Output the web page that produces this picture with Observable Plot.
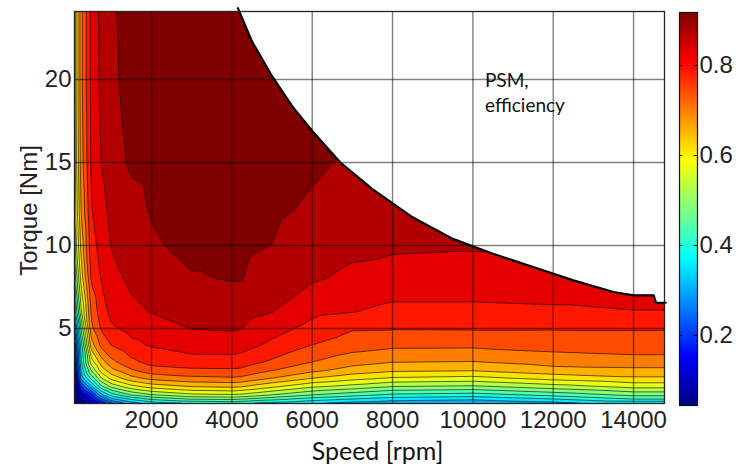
<!DOCTYPE html>
<html><head><meta charset="utf-8">
<script src="https://cdn.jsdelivr.net/npm/d3@7"></script>
<script src="https://cdn.jsdelivr.net/npm/@observablehq/plot@0.6"></script>
<style>
body{margin:0;background:#fff;}
#wrap{position:relative;width:736px;height:471px;overflow:hidden;}
#bar{position:absolute;left:668px;top:0;}
#main{position:absolute;left:0;top:0;}
</style></head><body><div id="wrap"><div id="main"></div><div id="bar"></div></div>
<script>
// Speed grid (rpm) — columns
const speeds = [0, 100, 250, 500, 750, 1000, 1500, 2000, 3000, 4000, 4200, 5000, 6000, 7000, 8000, 10000, 12000, 14000, 14800];
// Torque grid (Nm) — rows
const torques = [0.4, 0.75, 1, 1.5, 2, 2.5, 3, 4, 5, 6, 8, 10, 12, 15, 20, 25];
const efficiency = [
  [0, 0.00, 0.02, 0.06, 0.12, 0.18, 0.26, 0.30, 0.32, 0.33, 0.33, 0.31, 0.29, 0.27, 0.26, 0.25, 0.27, 0.28, 0.28],
  [0, 0.01, 0.05, 0.12, 0.22, 0.30, 0.362, 0.407, 0.444, 0.452, 0.444, 0.414, 0.377, 0.353, 0.332, 0.320, 0.353, 0.398, 0.398],
  [0, 0.02, 0.08, 0.16, 0.295, 0.370, 0.444, 0.481, 0.516, 0.523, 0.519, 0.484, 0.441, 0.414, 0.388, 0.377, 0.411, 0.452, 0.452],
  [0, 0.04, 0.18, 0.30, 0.429, 0.496, 0.556, 0.589, 0.616, 0.623, 0.619, 0.580, 0.535, 0.511, 0.484, 0.476, 0.508, 0.541, 0.541],
  [0, 0.08, 0.28, 0.41, 0.526, 0.586, 0.643, 0.671, 0.690, 0.696, 0.693, 0.657, 0.614, 0.586, 0.565, 0.556, 0.586, 0.607, 0.607],
  [0, 0.11, 0.32, 0.49, 0.593, 0.646, 0.698, 0.728, 0.738, 0.739, 0.738, 0.704, 0.671, 0.641, 0.625, 0.620, 0.644, 0.648, 0.648],
  [0, 0.14, 0.35, 0.55, 0.638, 0.690, 0.735, 0.760, 0.769, 0.771, 0.768, 0.738, 0.702, 0.675, 0.660, 0.657, 0.675, 0.683, 0.683],
  [0, 0.18, 0.38, 0.638, 0.713, 0.745, 0.777, 0.792, 0.810, 0.810, 0.807, 0.778, 0.744, 0.722, 0.711, 0.710, 0.719, 0.726, 0.726],
  [0, 0.26, 0.45, 0.690, 0.750, 0.781, 0.802, 0.810, 0.832, 0.835, 0.833, 0.805, 0.774, 0.748, 0.747, 0.748, 0.747, 0.747, 0.747],
  [0, 0.35, 0.52, 0.708, 0.769, 0.799, 0.822, 0.833, 0.844, 0.848, 0.847, 0.832, 0.798, 0.789, 0.777, 0.777, 0.780, 0.786, 0.786],
  [0, 0.44, 0.59, 0.750, 0.790, 0.820, 0.839, 0.848, 0.871, 0.877, 0.877, 0.854, 0.836, 0.822, 0.813, 0.813, 0.816, 0.817, 0.817],
  [0, 0.50, 0.63, 0.772, 0.802, 0.833, 0.851, 0.869, 0.887, 0.887, 0.884, 0.874, 0.853, 0.841, 0.838, 0.835, 0.824, 0.824, 0.824],
  [0, 0.52, 0.66, 0.784, 0.814, 0.844, 0.862, 0.877, 0.890, 0.890, 0.887, 0.881, 0.868, 0.853, 0.850, 0.844, 0.829, 0.824, 0.824],
  [0, 0.54, 0.68, 0.795, 0.832, 0.859, 0.880, 0.884, 0.892, 0.892, 0.890, 0.889, 0.881, 0.869, 0.862, 0.847, 0.829, 0.824, 0.824],
  [0, 0.55, 0.69, 0.799, 0.841, 0.868, 0.886, 0.889, 0.892, 0.892, 0.892, 0.892, 0.892, 0.877, 0.862, 0.847, 0.829, 0.824, 0.824],
  [0, 0.55, 0.69, 0.799, 0.844, 0.871, 0.887, 0.890, 0.892, 0.892, 0.892, 0.892, 0.892, 0.877, 0.862, 0.847, 0.829, 0.824, 0.824]
];
// Contour levels (lowest = base fill)
const levels = [0, 0.0500, 0.0934, 0.1368, 0.1802, 0.2236, 0.2670, 0.3104, 0.3538, 0.3972, 0.4406, 0.4840, 0.5274, 0.5708, 0.6142, 0.6576, 0.7010, 0.7444, 0.7878, 0.8312, 0.8746];
// Torque limit (operating boundary)
const limitSpeed  = [4150, 4500, 5000, 5500, 6000, 6700, 7500, 8500, 9500, 10500, 11500, 12500, 13500, 14000, 14500, 14560, 14800];
const limitTorque = [24.3, 22.3, 20.2, 18.4, 16.9, 15.0, 13.4, 11.7, 10.4, 9.5, 8.7, 7.9, 7.2, 7.0, 7.0, 6.55, 6.55];
// Ticks
const xTicks = [2000, 4000, 6000, 8000, 10000, 12000, 14000];
const yTicks = [5, 10, 15, 20];
const barTicks = [0.2, 0.4, 0.6, 0.8];
const note = ["PSM,\nefficiency"];

function jet(t) {
  t = Math.max(0, Math.min(1, t));
  const c = v => Math.round(255 * Math.max(0, Math.min(1, v)));
  const r = Math.min(4 * t - 1.5, -4 * t + 4.5);
  const g = Math.min(4 * t - 0.5, -4 * t + 3.5);
  const b = Math.min(4 * t + 0.5, -4 * t + 2.5);
  return `rgb(${c(r)},${c(g)},${c(b)})`;
}

const samples = torques.flatMap((T, i) => speeds.map((s, j) => ({speed: s, torque: T, eff: efficiency[i][j]})));
const limit = limitSpeed.map((s, i) => ({speed: s, torque: limitTorque[i]}));
const xDomain = [82, 14770];
const yDomain = [0.48, 24.1];
const barDomain = [0.044, 0.918];
const step = levels[2] - levels[1];

const main = Plot.plot({
  width: 736, height: 471,
  marginLeft: 74, marginRight: 72, marginTop: 11, marginBottom: 68,
  style: {fontFamily: "'Liberation Sans', Arial, sans-serif", fontSize: "24px", color: "#222", background: "transparent"},
  x: {domain: xDomain, ticks: xTicks, tickSize: 0, tickPadding: 7, label: null, tickFormat: d => String(d)},
  y: {domain: yDomain, ticks: yTicks, tickSize: 0, tickPadding: 3, label: null},
  // each band is painted with the colour of its upper level
  color: {type: "linear", domain: [barDomain[0] - step, barDomain[1] - step], interpolate: jet, clamp: true},
  marks: [
    Plot.contour(samples, {x: "speed", y: "torque", fill: "eff", interpolate: "barycentric", thresholds: levels, stroke: "#000", strokeWidth: 0.7, strokeOpacity: 0.85, pixelSize: 1}),
    Plot.areaY(limit, {x: "speed", y1: "torque", y2: yDomain[1], fill: "white"}),
    Plot.gridX(xTicks, {stroke: "#000", strokeOpacity: 0.5, strokeWidth: 1.4}),
    Plot.gridY(yTicks, {stroke: "#000", strokeOpacity: 0.5, strokeWidth: 1.4}),
    Plot.line(limit, {x: "speed", y: "torque", stroke: "#000", strokeWidth: 2.2}),
    Plot.frame({stroke: "#222", strokeWidth: 1.3}),
    Plot.text(note, {x: 10300, y: 19.3, textAnchor: "start", fontFamily: "Lato, 'Open Sans', sans-serif", fontSize: 19, lineHeight: 1.35, fill: "#111"}),
    Plot.text(["Speed [rpm]"], {frameAnchor: "bottom", dx: 8, dy: 56, fontFamily: "Lato, 'Open Sans', sans-serif", fontSize: 25, fill: "#111"}),
    Plot.text(["Torque [Nm]"], {frameAnchor: "left", textAnchor: "middle", dx: -45, dy: 3, rotate: -90, fontFamily: "'Liberation Sans', Arial, sans-serif", fontSize: 24, fill: "#222"})
  ]
});
document.getElementById("main").appendChild(main);

const bar = Plot.plot({
  width: 68, height: 471,
  marginLeft: 11, marginRight: 39, marginTop: 12, marginBottom: 66,
  style: {fontFamily: "'Liberation Sans', Arial, sans-serif", fontSize: "24px", color: "#222", background: "transparent"},
  x: {domain: [0, 1], axis: null},
  y: {domain: barDomain, axis: null},
  color: {type: "linear", domain: barDomain, interpolate: jet},
  marks: [
    Plot.raster({fill: (x, y) => y, x1: 0, x2: 1, y1: barDomain[0], y2: barDomain[1], pixelSize: 1}),
    Plot.ruleY(barTicks, {x1: 0, x2: 0.18, stroke: "#000"}),
    Plot.ruleY(barTicks, {x1: 0.82, x2: 1, stroke: "#000"}),
    Plot.axisY(barTicks, {anchor: "right", tickSize: 0, tickPadding: 2, tickFormat: d => d.toFixed(1)}),
    Plot.frame({stroke: "#111", strokeWidth: 1.2})
  ]
});
document.getElementById("bar").appendChild(bar);
</script>
</body></html>
